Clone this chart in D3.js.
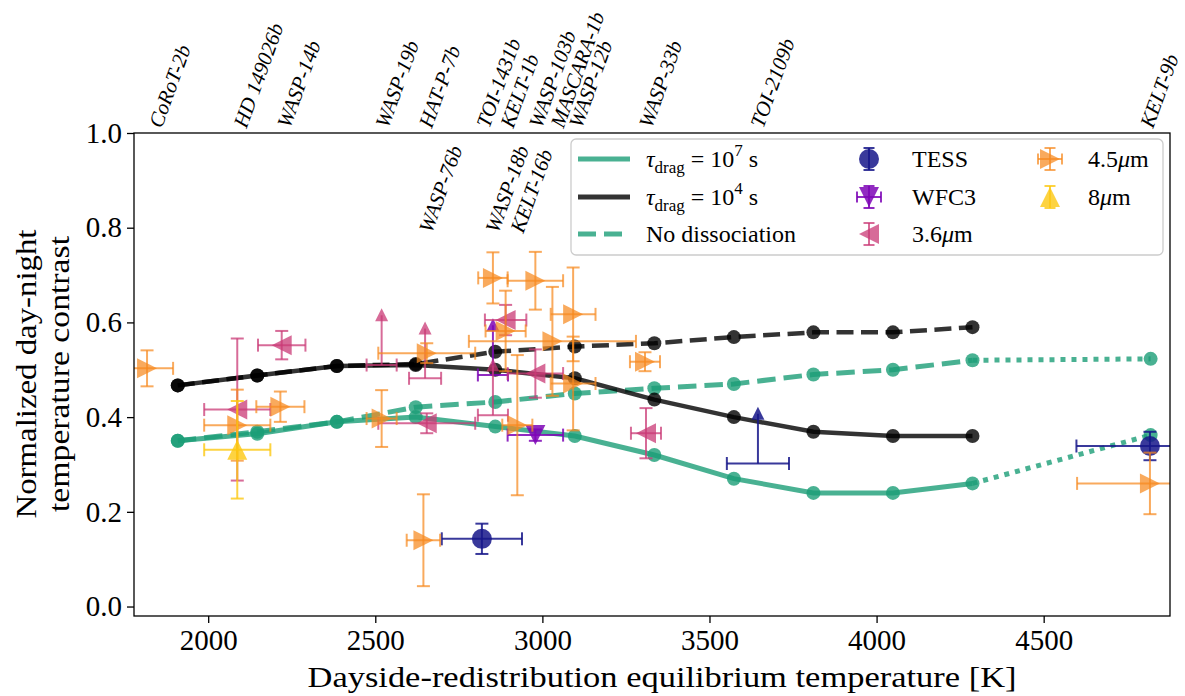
<!DOCTYPE html>
<html><head><meta charset="utf-8">
<script src="https://cdn.jsdelivr.net/npm/d3@7"></script>
<style>
body{margin:0;background:#fff}
svg{display:block}
text{font-family:"Liberation Serif","Times New Roman",serif;fill:#000}
</style>
</head><body>
<svg id="c" width="1185" height="696"></svg>
<script>
// ---------------- data ----------------
const modelT   = [1909, 2147, 2385, 2621, 2859, 3097, 3335, 3573, 3811, 4049, 4287];
const tau7     = [0.350, 0.365, 0.390, 0.400, 0.380, 0.360, 0.320, 0.270, 0.240, 0.240, 0.260];
const tau4     = [0.467, 0.488, 0.508, 0.510, 0.500, 0.482, 0.437, 0.400, 0.369, 0.360, 0.360];
const noDiss7  = [0.350, 0.369, 0.390, 0.421, 0.432, 0.450, 0.461, 0.470, 0.490, 0.500, 0.520];
const noDiss4  = [0.467, 0.488, 0.508, 0.512, 0.538, 0.549, 0.556, 0.569, 0.579, 0.579, 0.590];
const extT        = [4287, 4820];
const extTau7     = [0.260, 0.362];
const extNoDiss7  = [0.520, 0.523];

// observations: T, contrast, x error, y error
const tessT  = [2819, 4818];
const tessV  = [0.143, 0.339];
const tessXe = [120, 220];
const tessYe = [0.032, 0.030];
const tessLimT  = [3645];
const tessLimV  = [0.302];
const tessLimXe = [93];

const wfc3T  = [2979];
const wfc3V  = [0.362];
const wfc3Xe = [83];
const wfc3Ye = [0.012];
const wfc3LimT  = [2852];
const wfc3LimV  = [0.489];
const wfc3LimXe = [45];

const ch1T  = [2220, 2087, 2654, 2890, 2979, 3310];
const ch1V  = [0.552, 0.416, 0.387, 0.605, 0.492, 0.366];
const ch1Xe = [71, 99, 145, 62, 83, 45];
const ch1Ye = [0.030, 0.150, 0.021, 0.032, 0.051, 0.053];
const ch1LimT  = [2519, 2649, 2852];
const ch1LimV  = [0.510, 0.482, 0.404];
const ch1LimXe = [45, 48, 45];

const ch2T  = [1817, 2087, 2216, 2519, 2654, 2644, 2852, 2979, 3092, 3092, 3030, 2890, 2925, 3307, 4818];
const ch2V  = [0.503, 0.383, 0.422, 0.397, 0.535, 0.140, 0.694, 0.688, 0.617, 0.471, 0.560, 0.582, 0.383, 0.517, 0.260];
const ch2Xe = [78, 99, 72, 45, 145, 50, 44, 83, 67, 67, 250, 60, 45, 45, 218];
const ch2Ye = [0.038, 0.075, 0.032, 0.060, 0.021, 0.097, 0.054, 0.061, 0.099, 0.099, 0.115, 0.085, 0.148, 0.020, 0.065];

const ch4T  = [2087];
const ch4V  = [0.331];
const ch4Xe = [99];
const ch4Ye = [0.103];

const limitLen = 0.105;

// planet labels: name, temperature, row (0 = above frame, 1 = inside)
const planetNames = ["CoRoT-2b","HD 149026b","WASP-14b","WASP-19b","HAT-P-7b","TOI-1431b","KELT-1b","WASP-103b","MASCARA-1b","WASP-12b","WASP-33b","TOI-2109b","KELT-9b","WASP-76b","WASP-18b","KELT-16b"];
const planetT     = [1861, 2115, 2245, 2539, 2669, 2841, 2913, 2998, 3063, 3118, 3327, 3661, 4827, 2669, 2868, 2943];
const planetRow   = [0,0,0,0,0,0,0,0,0,0,0,0,0,1,1,1];

const yTicks = [0.0, 0.2, 0.4, 0.6, 0.8, 1.0];
const xTicks = [2000, 2500, 3000, 3500, 4000, 4500];

// ---------------- drawing ----------------
const svg = d3.select("#c");
const L = 134, R = 1170, T0 = 133, B = 616;
const x = d3.scaleLinear().domain([1778, 4878]).range([L, R]);
const y = d3.scaleLinear().domain([-0.02, 1.0]).range([B, T0]);

svg.append("defs").append("clipPath").attr("id","clip")
  .append("rect").attr("x",L).attr("y",T0).attr("width",R-L).attr("height",B-T0);

const plot = svg.append("g").attr("clip-path","url(#clip)");

const GREEN = "#1b9e77", BLACK = "#000000";
const line = d3.line().x(d => x(d[0])).y(d => y(d[1]));
function model(Ts, Vs, color, lw, dash, dots, op) {
  const pts = Ts.map((t,i) => [t, Vs[i]]);
  plot.append("path").attr("d", line(pts)).attr("fill","none")
    .attr("stroke", color).attr("stroke-width", lw).attr("stroke-opacity", op)
    .attr("stroke-dasharray", dash);
  const dd = dots === "last" ? [pts[pts.length-1]] : pts;
  plot.selectAll(null).data(dd).enter().append("circle")
    .attr("cx", d => x(d[0])).attr("cy", d => y(d[1])).attr("r", 7)
    .attr("fill", color).attr("fill-opacity", op);
}
model(extT, extNoDiss7, GREEN, 5, "5,6", "last", 0.8);
model(extT, extTau7, GREEN, 5, "5,6", "last", 0.8);
model(modelT, noDiss7, GREEN, 5, "18.5,8", "all", 0.8);
model(modelT, tau7, GREEN, 5, null, "all", 0.8);
model(modelT, tau4, BLACK, 4.5, null, "all", 0.8);
model(modelT, noDiss4, BLACK, 4.5, "17,7.5", "all", 0.8);

function markerPath(type, s) {
  switch (type) {
    case ">": return `M${s},0L${-s},${-s}L${-s},${s}Z`;
    case "<": return `M${-s},0L${s},${-s}L${s},${s}Z`;
    case "v": return `M0,${s}L${-s},${-s}L${s},${-s}Z`;
    case "^": return `M0,${-s}L${-s},${s}L${s},${s}Z`;
    default:  return `M${s},0A${s},${s} 0 1,1 ${-s},0A${s},${s} 0 1,1 ${s},0Z`;
  }
}

const CAP = 6.5, EW = 2;
function errPoints(Ts, Vs, Xe, Ye, color, op, mk) {
  const g = plot.append("g");
  Ts.forEach((t,i) => {
    const cx = x(t), cy = y(Vs[i]);
    const x0 = x(t - Xe[i]), x1 = x(t + Xe[i]);
    const y0 = y(Vs[i] - Ye[i]), y1 = y(Vs[i] + Ye[i]);
    const segs = [[x0,cy,x1,cy],[cx,y0,cx,y1],
      [x0,cy-CAP,x0,cy+CAP],[x1,cy-CAP,x1,cy+CAP],
      [cx-CAP,y0,cx+CAP,y0],[cx-CAP,y1,cx+CAP,y1]];
    segs.forEach(s => g.append("line").attr("x1",s[0]).attr("y1",s[1]).attr("x2",s[2]).attr("y2",s[3])
      .attr("stroke",color).attr("stroke-width",EW).attr("stroke-opacity",op));
    g.append("path").attr("d", markerPath(mk, 10)).attr("transform",`translate(${cx},${cy})`)
      .attr("fill",color).attr("fill-opacity",op);
  });
}
function limPoints(Ts, Vs, Xe, color, op) {
  const g = plot.append("g");
  Ts.forEach((t,i) => {
    const cx = x(t), cy = y(Vs[i]);
    const x0 = x(t - Xe[i]), x1 = x(t + Xe[i]);
    const yt = y(Vs[i] + limitLen);
    const segs = [[x0,cy,x1,cy],[cx,cy,cx,yt],[x0,cy-CAP,x0,cy+CAP],[x1,cy-CAP,x1,cy+CAP]];
    segs.forEach(s => g.append("line").attr("x1",s[0]).attr("y1",s[1]).attr("x2",s[2]).attr("y2",s[3])
      .attr("stroke",color).attr("stroke-width",EW).attr("stroke-opacity",op));
    g.append("path").attr("d",`M0,-7L-6.5,6L6.5,6Z`).attr("transform",`translate(${cx},${yt})`)
      .attr("fill",color).attr("fill-opacity",op);
  });
}

const C_TESS = "#16168a", C_WFC3 = "#7e06b6", C_CH1 = "#c93a75", C_CH2 = "#f6891f", C_CH4 = "#fcc812";
errPoints(tessT, tessV, tessXe, tessYe, C_TESS, 0.85, "o");
limPoints(tessLimT, tessLimV, tessLimXe, C_TESS, 0.85);
errPoints(wfc3T, wfc3V, wfc3Xe, wfc3Ye, C_WFC3, 0.85, "v");
limPoints(wfc3LimT, wfc3LimV, wfc3LimXe, C_WFC3, 0.85);
errPoints(ch1T, ch1V, ch1Xe, ch1Ye, C_CH1, 0.75, "<");
limPoints(ch1LimT, ch1LimV, ch1LimXe, C_CH1, 0.75);
errPoints(ch2T, ch2V, ch2Xe, ch2Ye, C_CH2, 0.72, ">");
errPoints(ch4T, ch4V, ch4Xe, ch4Ye, C_CH4, 0.8, "^");

// frame
svg.append("rect").attr("x",L).attr("y",T0).attr("width",R-L).attr("height",B-T0)
  .attr("fill","none").attr("stroke","#000").attr("stroke-width",1.3);

// axes
const ax = svg.append("g").attr("transform",`translate(0,${B})`)
  .call(d3.axisBottom(x).tickValues(xTicks).tickFormat(d3.format("d")).tickSize(7).tickPadding(6));
const ay = svg.append("g").attr("transform",`translate(${L},0)`)
  .call(d3.axisLeft(y).tickValues(yTicks).tickFormat(d3.format(".1f")).tickSize(7).tickPadding(5));
[ax, ay].forEach(a => {
  a.select(".domain").remove();
  a.selectAll(".tick line").attr("stroke","#000").attr("stroke-width",1.3);
  a.selectAll(".tick text").attr("font-family","Liberation Serif").attr("font-size",29).attr("fill","#000");
});

// axis titles
svg.append("text").attr("x",662).attr("y",687).attr("text-anchor","middle")
  .attr("font-size",30).attr("textLength",709).attr("lengthAdjust","spacingAndGlyphs")
  .text("Dayside-redistribution equilibrium temperature [K]");
svg.append("text").attr("transform","translate(36,374) rotate(-90)").attr("text-anchor","middle")
  .attr("font-size",30).attr("textLength",289).attr("lengthAdjust","spacingAndGlyphs")
  .text("Normalized day-night");
svg.append("text").attr("transform","translate(69,374) rotate(-90)").attr("text-anchor","middle")
  .attr("font-size",30).attr("textLength",276).attr("lengthAdjust","spacingAndGlyphs")
  .text("temperature contrast");

// planet labels
planetNames.forEach((n,i) => {
  const py = planetRow[i] === 0 ? 129 : 234;
  svg.append("text").attr("transform",`translate(${x(planetT[i])},${py}) rotate(-70)`)
    .attr("font-size",21).attr("font-style","italic").text(n);
});

// legend
const lg = svg.append("g");
lg.append("rect").attr("x",571).attr("y",139).attr("width",592).attr("height",116).attr("rx",5)
  .attr("fill","#fff").attr("fill-opacity",0.85).attr("stroke","#cccccc").attr("stroke-width",1.3);
const rows = [159, 197, 234];
const FS = 24;
function lgLine(r, color, dash) {
  lg.append("line").attr("x1",578).attr("x2",630).attr("y1",rows[r]).attr("y2",rows[r])
    .attr("stroke",color).attr("stroke-width",5).attr("stroke-opacity",0.8).attr("stroke-dasharray",dash);
}
lgLine(0, GREEN, null); lgLine(1, BLACK, null); lgLine(2, GREEN, "18,8");
function tauText(r, exp) {
  const t = lg.append("text").attr("x",646).attr("y",rows[r]+8).attr("font-size",FS);
  t.append("tspan").attr("font-style","italic").text("τ");
  t.append("tspan").attr("font-size",17).attr("dy",6).text("drag");
  t.append("tspan").attr("dy",-6).text(" = 10");
  t.append("tspan").attr("font-size",17).attr("dy",-11).text(exp);
  t.append("tspan").attr("dy",11).text(" s");
}
tauText(0,"7"); tauText(1,"4");
lg.append("text").attr("x",646).attr("y",rows[2]+8).attr("font-size",FS).text("No dissociation");

function lgMarker(cx, cy, color, op, mk, hbar) {
  const segs = [[cx,cy-11,cx,cy+11],[cx-5.5,cy-11,cx+5.5,cy-11],[cx-5.5,cy+11,cx+5.5,cy+11]];
  if (hbar) segs.push([cx-12,cy,cx+12,cy],[cx-12,cy-5.5,cx-12,cy+5.5],[cx+12,cy-5.5,cx+12,cy+5.5]);
  segs.forEach(s => lg.append("line").attr("x1",s[0]).attr("y1",s[1]).attr("x2",s[2]).attr("y2",s[3])
    .attr("stroke",color).attr("stroke-width",EW).attr("stroke-opacity",op));
  lg.append("path").attr("d",markerPath(mk,10)).attr("transform",`translate(${cx},${cy})`)
    .attr("fill",color).attr("fill-opacity",op);
}
lgMarker(869, rows[0], C_TESS, 0.85, "o", false);
lgMarker(869, rows[1], C_WFC3, 0.85, "v", true);
lgMarker(869, rows[2], C_CH1, 0.75, "<", false);
lgMarker(1050, rows[0], C_CH2, 0.72, ">", true);
lgMarker(1050, rows[1], C_CH4, 0.8, "^", false);
lg.append("text").attr("x",912).attr("y",rows[0]+8).attr("font-size",FS).text("TESS");
lg.append("text").attr("x",912).attr("y",rows[1]+8).attr("font-size",FS).text("WFC3");
const t36 = lg.append("text").attr("x",912).attr("y",rows[2]+8).attr("font-size",FS);
t36.append("tspan").text("3.6"); t36.append("tspan").attr("font-style","italic").text("μ"); t36.append("tspan").text("m");
const t45 = lg.append("text").attr("x",1088).attr("y",rows[0]+8).attr("font-size",FS);
t45.append("tspan").text("4.5"); t45.append("tspan").attr("font-style","italic").text("μ"); t45.append("tspan").text("m");
const t8 = lg.append("text").attr("x",1088).attr("y",rows[1]+8).attr("font-size",FS);
t8.append("tspan").text("8"); t8.append("tspan").attr("font-style","italic").text("μ"); t8.append("tspan").text("m");
</script>
</body></html>
